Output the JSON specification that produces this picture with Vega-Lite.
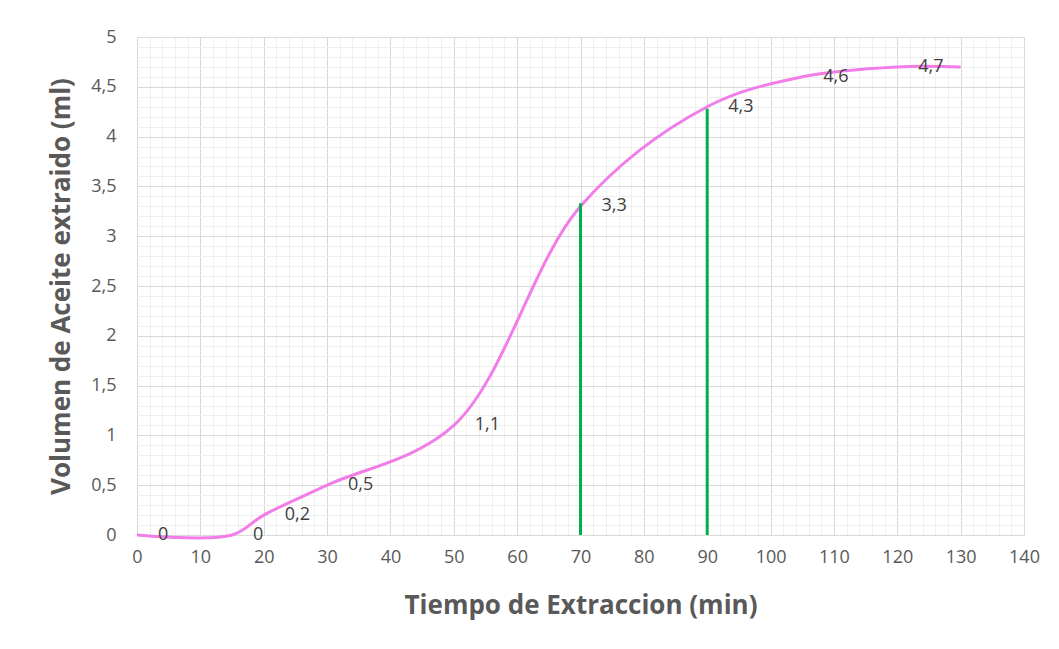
{
  "$schema": "https://vega.github.io/schema/vega-lite/v6.json",
  "width": 887,
  "height": 498,
  "autosize": {"type": "none"},
  "padding": {"left": 137, "top": 37, "right": 35, "bottom": 114},
  "background": "white",
  "config": {
    "view": {"stroke": null},
    "font": "Open Sans"
  },
  "datasets": {
    "curve": [
      {"t": 0, "v": 0, "label": "0"},
      {"t": 15, "v": 0, "label": "0"},
      {"t": 20, "v": 0.2, "label": "0,2"},
      {"t": 30, "v": 0.5, "label": "0,5"},
      {"t": 50, "v": 1.1, "label": "1,1"},
      {"t": 70, "v": 3.3, "label": "3,3"},
      {"t": 90, "v": 4.3, "label": "4,3"},
      {"t": 105, "v": 4.6, "label": "4,6"},
      {"t": 120, "v": 4.7, "label": "4,7"},
      {"t": 130, "v": 4.7, "label": ""}
    ],
    "marks": [
      {"t": 70, "v": 3.33},
      {"t": 90, "v": 4.28}
    ]
  },
  "encoding": {
    "x": {
      "field": "t", "type": "quantitative",
      "scale": {"domain": [0, 140], "nice": false, "zero": false},
      "axis": {
        "title": "Tiempo de Extraccion (min)",
        "values": [0,2,4,6,8,10,12,14,16,18,20,22,24,26,28,30,32,34,36,38,40,42,44,46,48,50,52,54,56,58,60,62,64,66,68,70,72,74,76,78,80,82,84,86,88,90,92,94,96,98,100,102,104,106,108,110,112,114,116,118,120,122,124,126,128,130,132,134,136,138,140],
        "labelExpr": "datum.value % 10 === 0 ? datum.label : ''",
        "gridColor": {"condition": {"test": "datum.value % 10 === 0", "value": "#d9d9d9"}, "value": "#efefef"},
        "gridWidth": 1,
        "ticks": false,
        "domain": false,
        "labelFontSize": 18,
        "labelColor": "#595959",
        "labelPadding": 13,
        "labelFlush": false,
        "labelOverlap": false,
        "titleFontSize": 26,
        "titleFontWeight": "bold",
        "titleColor": "#595959",
        "titlePadding": 26
      }
    },
    "y": {
      "field": "v", "type": "quantitative",
      "scale": {"domain": [0, 5], "nice": false},
      "axis": {
        "title": "Volumen de Aceite extraido (ml)",
        "values": [0,0.1,0.2,0.3,0.4,0.5,0.6,0.7,0.8,0.9,1,1.1,1.2,1.3,1.4,1.5,1.6,1.7,1.8,1.9,2,2.1,2.2,2.3,2.4,2.5,2.6,2.7,2.8,2.9,3,3.1,3.2,3.3,3.4,3.5,3.6,3.7,3.8,3.9,4,4.1,4.2,4.3,4.4,4.5,4.6,4.7,4.8,4.9,5],
        "labelExpr": "abs(datum.value*2 - round(datum.value*2)) < 0.001 ? replace(format(datum.value, '~g'), '.', ',') : ''",
        "gridColor": {"condition": {"test": "abs(datum.value*2 - round(datum.value*2)) < 0.001", "value": "#d9d9d9"}, "value": "#efefef"},
        "ticks": false,
        "domain": false,
        "labelFontSize": 18,
        "labelColor": "#595959",
        "labelPadding": 21,
        "labelFlush": false,
        "labelOverlap": false,
        "titleFontSize": 26,
        "titleFontWeight": "bold",
        "titleColor": "#595959",
        "titlePadding": 16
      }
    }
  },
  "layer": [
    {
      "data": {"name": "curve"},
      "mark": {"type": "line", "interpolate": "catmull-rom", "color": "#F27DE8", "strokeWidth": 3}
    },
    {
      "data": {"name": "marks"},
      "mark": {"type": "rule", "color": "#00B050", "strokeWidth": 3},
      "encoding": {
        "y2": {"datum": 0}
      }
    },
    {
      "data": {"name": "curve"},
      "transform": [{"filter": "datum.label !== ''"}],
      "mark": {"type": "text", "align": "left", "baseline": "middle", "dx": 21, "fontSize": 18, "color": "#404040"},
      "encoding": {
        "text": {"field": "label"}
      }
    }
  ]
}
